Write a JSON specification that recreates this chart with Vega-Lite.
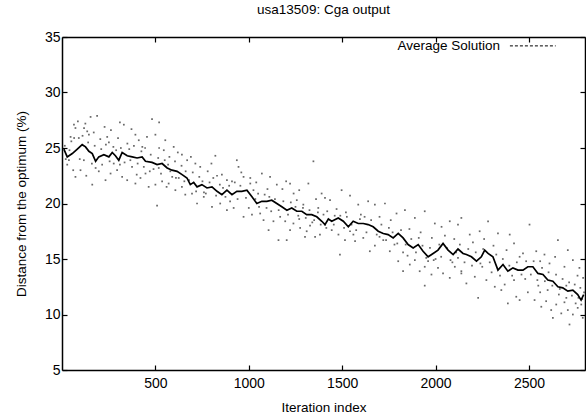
{
  "$schema": "https://vega.github.io/schema/vega-lite/v6.json",
  "width": 523,
  "height": 333,
  "autosize": "none",
  "padding": {"left": 62, "top": 37, "right": 1, "bottom": 46},
  "background": "white",
  "config": {
    "font": "Liberation Sans",
    "view": {"stroke": null},
    "axis": {
      "domainColor": "black",
      "domainWidth": 1.5,
      "tickColor": "black",
      "tickWidth": 1.2,
      "tickSize": -5,
      "grid": false,
      "labelFont": "Liberation Sans",
      "labelFontSize": 14,
      "labelColor": "black",
      "titleFont": "Liberation Sans",
      "titleFontSize": 13.5,
      "titleFontWeight": "normal",
      "titleColor": "black"
    }
  },
  "title": {
    "text": "usa13509: Cga output",
    "font": "Liberation Sans",
    "fontSize": 13.5,
    "fontWeight": "normal",
    "color": "black",
    "offset": 14,
    "anchor": "middle"
  },
  "datasets": {
    "avg": [
      {"i":10,"v":24.9},{"i":28,"v":24.2},{"i":55,"v":24.5},{"i":82,"v":24.9},{"i":108,"v":25.3},{"i":126,"v":25.1},{"i":144,"v":24.7},{"i":162,"v":24.5},{"i":180,"v":23.8},{"i":197,"v":24.2},{"i":224,"v":24.4},{"i":251,"v":24.2},{"i":269,"v":24.6},{"i":286,"v":24.3},{"i":304,"v":23.9},{"i":322,"v":24.6},{"i":349,"v":24.3},{"i":376,"v":24.2},{"i":402,"v":24.1},{"i":429,"v":24.2},{"i":447,"v":23.8},{"i":482,"v":23.7},{"i":509,"v":23.5},{"i":536,"v":23.6},{"i":563,"v":23.2},{"i":589,"v":23.0},{"i":616,"v":22.9},{"i":643,"v":22.6},{"i":669,"v":22.3},{"i":687,"v":21.7},{"i":705,"v":21.9},{"i":723,"v":21.5},{"i":749,"v":21.7},{"i":776,"v":21.4},{"i":803,"v":21.5},{"i":830,"v":21.1},{"i":856,"v":20.8},{"i":883,"v":21.2},{"i":910,"v":20.8},{"i":936,"v":21.1},{"i":963,"v":21.1},{"i":990,"v":21.2},{"i":1017,"v":20.6},{"i":1043,"v":20.0},{"i":1070,"v":20.2},{"i":1097,"v":20.2},{"i":1123,"v":20.3},{"i":1150,"v":20.0},{"i":1177,"v":19.7},{"i":1204,"v":19.4},{"i":1230,"v":19.6},{"i":1257,"v":19.3},{"i":1284,"v":19.3},{"i":1310,"v":19.0},{"i":1337,"v":19.0},{"i":1364,"v":18.8},{"i":1391,"v":18.4},{"i":1408,"v":18.1},{"i":1426,"v":18.6},{"i":1444,"v":18.4},{"i":1479,"v":18.7},{"i":1506,"v":18.4},{"i":1533,"v":17.9},{"i":1559,"v":18.4},{"i":1586,"v":18.2},{"i":1613,"v":18.2},{"i":1639,"v":18.1},{"i":1666,"v":17.9},{"i":1693,"v":17.5},{"i":1720,"v":17.3},{"i":1746,"v":17.2},{"i":1773,"v":16.9},{"i":1800,"v":17.3},{"i":1826,"v":16.9},{"i":1853,"v":16.3},{"i":1880,"v":16.0},{"i":1907,"v":16.3},{"i":1933,"v":15.7},{"i":1960,"v":15.2},{"i":1987,"v":15.5},{"i":2013,"v":15.8},{"i":2040,"v":16.4},{"i":2067,"v":15.8},{"i":2094,"v":15.4},{"i":2120,"v":15.9},{"i":2147,"v":15.5},{"i":2165,"v":15.4},{"i":2192,"v":15.2},{"i":2219,"v":14.8},{"i":2245,"v":15.2},{"i":2263,"v":15.8},{"i":2281,"v":15.5},{"i":2307,"v":15.2},{"i":2334,"v":14.0},{"i":2361,"v":14.5},{"i":2387,"v":13.9},{"i":2414,"v":14.2},{"i":2441,"v":14.0},{"i":2468,"v":14.0},{"i":2494,"v":14.3},{"i":2521,"v":14.3},{"i":2548,"v":13.7},{"i":2575,"v":13.6},{"i":2601,"v":13.1},{"i":2628,"v":13.0},{"i":2655,"v":12.5},{"i":2681,"v":12.4},{"i":2708,"v":12.1},{"i":2735,"v":12.2},{"i":2761,"v":11.8},{"i":2779,"v":11.3},{"i":2793,"v":11.8}
    ],
    "pts": [
      {"i":64,"v":27.1},{"i":72,"v":26.8},{"i":46,"v":26.0},{"i":153,"v":27.8},{"i":188,"v":27.9},{"i":135,"v":26.5},{"i":144,"v":26.2},{"i":242,"v":26.0},{"i":251,"v":25.5},{"i":331,"v":27.1},{"i":393,"v":26.2},{"i":411,"v":25.7},{"i":482,"v":27.6},{"i":500,"v":26.2},{"i":553,"v":25.7},{"i":598,"v":25.1},{"i":642,"v":24.4},{"i":72,"v":22.4},{"i":99,"v":23.0},{"i":162,"v":21.7},{"i":197,"v":22.9},{"i":233,"v":22.1},{"i":295,"v":23.0},{"i":322,"v":22.4},{"i":349,"v":22.1},{"i":393,"v":21.8},{"i":420,"v":22.3},{"i":447,"v":22.7},{"i":464,"v":21.5},{"i":500,"v":21.7},{"i":536,"v":22.0},{"i":571,"v":21.8},{"i":607,"v":21.2},{"i":642,"v":21.5},{"i":660,"v":20.8},{"i":696,"v":20.9},{"i":509,"v":19.8},{"i":28,"v":23.5},{"i":37,"v":23.9},{"i":117,"v":23.9},{"i":215,"v":23.5},{"i":277,"v":23.6},{"i":366,"v":23.9},{"i":375,"v":23.3},{"i":438,"v":23.3},{"i":518,"v":23.2},{"i":580,"v":22.9},{"i":50,"v":25.6},{"i":90,"v":25.9},{"i":118,"v":26.8},{"i":170,"v":26.4},{"i":205,"v":25.8},{"i":228,"v":26.9},{"i":262,"v":26.6},{"i":300,"v":25.9},{"i":350,"v":25.4},{"i":372,"v":26.7},{"i":430,"v":25.1},{"i":455,"v":26.0},{"i":520,"v":25.0},{"i":545,"v":24.8},{"i":620,"v":24.6},{"i":670,"v":23.9},{"i":690,"v":24.2},{"i":20,"v":24.0},{"i":60,"v":23.0},{"i":130,"v":22.5},{"i":180,"v":23.2},{"i":260,"v":22.7},{"i":310,"v":23.5},{"i":400,"v":22.6},{"i":470,"v":22.9},{"i":560,"v":21.5},{"i":610,"v":22.3},{"i":655,"v":22.0},{"i":520,"v":27.3},{"i":125,"v":27.2},{"i":85,"v":27.4},{"i":575,"v":24.2},{"i":310,"v":27.3},
      {"i":714,"v":23.6},{"i":740,"v":23.3},{"i":821,"v":24.3},{"i":856,"v":22.6},{"i":883,"v":22.1},{"i":910,"v":22.0},{"i":936,"v":23.9},{"i":945,"v":23.3},{"i":972,"v":22.4},{"i":1008,"v":21.8},{"i":1008,"v":22.3},{"i":1114,"v":22.4},{"i":1150,"v":21.7},{"i":1221,"v":21.8},{"i":1257,"v":20.3},{"i":1292,"v":19.9},{"i":1346,"v":23.8},{"i":1319,"v":21.8},{"i":1372,"v":19.6},{"i":1408,"v":20.5},{"i":723,"v":20.0},{"i":759,"v":20.6},{"i":803,"v":19.7},{"i":847,"v":20.0},{"i":883,"v":19.4},{"i":919,"v":19.6},{"i":972,"v":18.8},{"i":1017,"v":19.0},{"i":1061,"v":19.1},{"i":1079,"v":18.5},{"i":1106,"v":17.6},{"i":1132,"v":18.4},{"i":1168,"v":18.8},{"i":1195,"v":18.4},{"i":1221,"v":17.6},{"i":1239,"v":18.2},{"i":1275,"v":17.8},{"i":1310,"v":17.5},{"i":1328,"v":18.0},{"i":1355,"v":17.0},{"i":1381,"v":17.2},{"i":1408,"v":18.1},{"i":1159,"v":16.7},{"i":1203,"v":16.7},{"i":1301,"v":17.0},{"i":780,"v":22.9},{"i":830,"v":22.5},{"i":960,"v":22.8},{"i":1040,"v":21.9},{"i":1070,"v":22.7},{"i":1180,"v":21.3},{"i":1200,"v":22.0},{"i":1240,"v":20.9},{"i":1270,"v":21.2},{"i":1360,"v":20.4},{"i":1390,"v":20.9},{"i":760,"v":21.0},{"i":900,"v":20.2},{"i":1000,"v":19.6},{"i":1050,"v":20.9},{"i":1120,"v":19.3},{"i":1270,"v":18.6},{"i":1340,"v":18.3},{"i":1420,"v":19.3},{"i":800,"v":23.6},{"i":1100,"v":21.3},
      {"i":1435,"v":20.3},{"i":1542,"v":20.7},{"i":1497,"v":21.2},{"i":1586,"v":19.9},{"i":1639,"v":20.2},{"i":1675,"v":19.9},{"i":1729,"v":20.0},{"i":1791,"v":19.1},{"i":1836,"v":19.4},{"i":1889,"v":18.7},{"i":1942,"v":19.3},{"i":1996,"v":18.2},{"i":2032,"v":17.9},{"i":2076,"v":18.4},{"i":2138,"v":18.7},{"i":1444,"v":17.6},{"i":1480,"v":17.2},{"i":1515,"v":16.7},{"i":1542,"v":17.5},{"i":1569,"v":16.6},{"i":1613,"v":16.9},{"i":1648,"v":15.7},{"i":1675,"v":16.2},{"i":1720,"v":16.7},{"i":1755,"v":15.7},{"i":1800,"v":14.8},{"i":1826,"v":15.6},{"i":1862,"v":14.5},{"i":1889,"v":14.9},{"i":1915,"v":13.9},{"i":1942,"v":14.3},{"i":1978,"v":13.6},{"i":2013,"v":14.2},{"i":2040,"v":13.7},{"i":2076,"v":13.3},{"i":2103,"v":14.3},{"i":2138,"v":13.9},{"i":1942,"v":12.6},{"i":1826,"v":13.9},{"i":1488,"v":15.4},{"i":1470,"v":19.5},{"i":1520,"v":19.2},{"i":1600,"v":19.0},{"i":1700,"v":18.8},{"i":1760,"v":18.5},{"i":1860,"v":17.7},{"i":1920,"v":17.4},{"i":1980,"v":16.9},{"i":2050,"v":17.1},{"i":2100,"v":16.8},{"i":1460,"v":18.9},{"i":1560,"v":17.2},{"i":1700,"v":17.0},{"i":1780,"v":16.3},{"i":1850,"v":15.3},{"i":1960,"v":14.8},{"i":2000,"v":15.0},{"i":2090,"v":14.7},{"i":2120,"v":15.1},{"i":1620,"v":18.8},
      {"i":2120,"v":18.1},{"i":2281,"v":18.4},{"i":2183,"v":17.2},{"i":2236,"v":17.5},{"i":2334,"v":17.3},{"i":2397,"v":17.2},{"i":2503,"v":18.1},{"i":2468,"v":15.5},{"i":2539,"v":15.7},{"i":2583,"v":15.4},{"i":2655,"v":16.7},{"i":2708,"v":15.8},{"i":2735,"v":14.9},{"i":2770,"v":14.2},{"i":2138,"v":13.7},{"i":2165,"v":12.8},{"i":2210,"v":13.4},{"i":2228,"v":11.5},{"i":2272,"v":13.1},{"i":2317,"v":12.5},{"i":2352,"v":12.2},{"i":2387,"v":11.0},{"i":2432,"v":11.6},{"i":2450,"v":11.3},{"i":2494,"v":12.0},{"i":2530,"v":11.3},{"i":2566,"v":10.7},{"i":2592,"v":11.2},{"i":2619,"v":10.4},{"i":2646,"v":10.9},{"i":2673,"v":10.1},{"i":2708,"v":10.4},{"i":2735,"v":10.0},{"i":2717,"v":9.1},{"i":2761,"v":10.6},{"i":2788,"v":9.7},{"i":2628,"v":9.7},{"i":2370,"v":12.7},{"i":2200,"v":16.5},{"i":2260,"v":16.8},{"i":2310,"v":16.2},{"i":2380,"v":15.8},{"i":2420,"v":16.4},{"i":2450,"v":15.2},{"i":2560,"v":14.8},{"i":2610,"v":14.6},{"i":2640,"v":15.2},{"i":2690,"v":14.3},{"i":2760,"v":13.5},{"i":2790,"v":13.3},{"i":2250,"v":14.3},{"i":2300,"v":13.8},{"i":2420,"v":13.1},{"i":2480,"v":13.2},{"i":2550,"v":12.6},{"i":2600,"v":12.2},{"i":2660,"v":11.8},{"i":2700,"v":11.5},{"i":2750,"v":11.0},{"i":2780,"v":10.9},{"i":2560,"v":12.0},{"i":2690,"v":11.1},
      {"i":15,"v":25.2},{"i":40,"v":24.8},{"i":65,"v":25.9},{"i":95,"v":24.0},{"i":110,"v":26.1},{"i":140,"v":25.5},{"i":160,"v":23.6},{"i":175,"v":25.2},{"i":210,"v":24.9},{"i":235,"v":25.3},{"i":255,"v":23.8},{"i":275,"v":25.1},{"i":290,"v":24.8},{"i":315,"v":25.0},{"i":335,"v":23.7},{"i":360,"v":24.9},{"i":385,"v":25.2},{"i":405,"v":23.6},{"i":425,"v":24.7},{"i":445,"v":25.0},{"i":475,"v":24.4},{"i":490,"v":23.1},
      {"i":515,"v":24.1},{"i":530,"v":22.7},{"i":550,"v":23.9},{"i":568,"v":23.5},{"i":590,"v":22.4},{"i":605,"v":23.8},{"i":625,"v":22.3},{"i":640,"v":23.4},{"i":662,"v":22.9},{"i":680,"v":22.1},{"i":700,"v":22.8},{"i":718,"v":21.1},{"i":735,"v":22.4},{"i":752,"v":22.0},{"i":770,"v":20.9},{"i":790,"v":21.9},{"i":810,"v":22.3},{"i":825,"v":20.7},{"i":845,"v":21.7},{"i":862,"v":21.4},{"i":875,"v":20.6},{"i":895,"v":21.6},{"i":925,"v":21.9},{"i":940,"v":20.4},{"i":955,"v":21.6},{"i":985,"v":20.5},
      {"i":1025,"v":21.2},{"i":1035,"v":20.4},{"i":1055,"v":19.7},{"i":1085,"v":20.8},{"i":1095,"v":19.6},{"i":1110,"v":20.6},{"i":1140,"v":20.4},{"i":1160,"v":19.4},{"i":1185,"v":20.2},{"i":1210,"v":19.0},{"i":1225,"v":20.1},{"i":1250,"v":19.7},{"i":1265,"v":18.9},{"i":1290,"v":19.6},{"i":1305,"v":18.7},{"i":1325,"v":19.4},{"i":1350,"v":18.5},{"i":1370,"v":19.2},{"i":1385,"v":18.1},{"i":1400,"v":19.0},{"i":1415,"v":17.8},{"i":1455,"v":18.1},{"i":1490,"v":18.9},
      {"i":1510,"v":17.8},{"i":1525,"v":18.8},{"i":1550,"v":18.1},{"i":1575,"v":17.6},{"i":1595,"v":18.6},{"i":1630,"v":17.4},{"i":1655,"v":18.5},{"i":1685,"v":17.2},{"i":1710,"v":18.1},{"i":1735,"v":16.7},{"i":1750,"v":17.8},{"i":1770,"v":17.4},{"i":1795,"v":16.4},{"i":1815,"v":17.6},{"i":1840,"v":16.3},{"i":1870,"v":16.8},{"i":1895,"v":15.6},{"i":1910,"v":16.9},{"i":1930,"v":16.2},{"i":1950,"v":15.1},{"i":1970,"v":16.0},{"i":1990,"v":14.9},
      {"i":2020,"v":16.3},{"i":2030,"v":15.2},{"i":2060,"v":16.0},{"i":2080,"v":14.9},{"i":2110,"v":15.6},{"i":2130,"v":16.3},{"i":2155,"v":14.7},{"i":2175,"v":15.9},{"i":2195,"v":14.4},{"i":2215,"v":15.6},{"i":2240,"v":14.6},{"i":2255,"v":15.9},{"i":2290,"v":14.7},{"i":2325,"v":15.4},{"i":2345,"v":13.5},{"i":2360,"v":15.0},{"i":2395,"v":14.4},{"i":2410,"v":13.5},{"i":2435,"v":14.7},{"i":2460,"v":13.6},{"i":2485,"v":14.8},
      {"i":2510,"v":13.6},{"i":2525,"v":14.8},{"i":2545,"v":13.1},{"i":2570,"v":14.2},{"i":2585,"v":13.0},{"i":2605,"v":13.8},{"i":2625,"v":12.6},{"i":2645,"v":13.6},{"i":2665,"v":12.3},{"i":2680,"v":13.2},{"i":2700,"v":12.6},{"i":2715,"v":12.9},{"i":2730,"v":11.7},{"i":2745,"v":12.7},{"i":2765,"v":11.5},{"i":2775,"v":12.4},{"i":2795,"v":12.0},{"i":2785,"v":11.4}
    ]
  },
  "layer": [
    {
      "data": {"name": "pts"},
      "mark": {"type": "square", "size": 3, "color": "#444444", "opacity": 0.8},
      "encoding": {
        "x": {
          "field": "i", "type": "quantitative",
          "scale": {"domain": [0, 2800], "nice": false, "zero": false},
          "axis": {"orient": "bottom", "values": [500, 1000, 1500, 2000, 2500], "format": "d", "title": "Iteration index", "labelPadding": 11, "titlePadding": 10}
        },
        "y": {
          "field": "v", "type": "quantitative",
          "scale": {"domain": [5, 35], "nice": false, "zero": false},
          "axis": {"orient": "left", "values": [5, 10, 15, 20, 25, 30, 35], "format": "d", "title": "Distance from the optimum (%)", "labelPadding": 7, "titlePadding": 16}
        }
      }
    },
    {
      "data": {"name": "avg"},
      "mark": {"type": "line", "color": "black", "strokeWidth": 1.7},
      "encoding": {
        "x": {
          "field": "i", "type": "quantitative",
          "scale": {"domain": [0, 2800], "nice": false, "zero": false},
          "axis": {"orient": "top", "values": [500, 1000, 1500, 2000, 2500], "labels": false, "title": null}
        },
        "y": {
          "field": "v", "type": "quantitative",
          "scale": {"domain": [5, 35], "nice": false, "zero": false},
          "axis": {"orient": "right", "values": [5, 10, 15, 20, 25, 30, 35], "labels": false, "title": null}
        }
      }
    },
    {
      "data": {"values": [{}]},
      "mark": {"type": "text", "align": "right", "baseline": "middle", "fontSize": 13.5, "font": "Liberation Sans", "color": "black"},
      "encoding": {
        "x": {"datum": 2345, "type": "quantitative", "axis": null},
        "y": {"datum": 34.2, "type": "quantitative", "axis": null},
        "text": {"value": "Average Solution"}
      }
    },
    {
      "data": {"values": [{}]},
      "mark": {"type": "rule", "color": "black", "strokeWidth": 1, "strokeDash": [3, 2]},
      "encoding": {
        "x": {"datum": 2398, "type": "quantitative", "axis": null},
        "x2": {"datum": 2643},
        "y": {"datum": 34.2, "type": "quantitative", "axis": null}
      }
    }
  ],
  "resolve": {"axis": {"x": "independent", "y": "independent"}}
}
